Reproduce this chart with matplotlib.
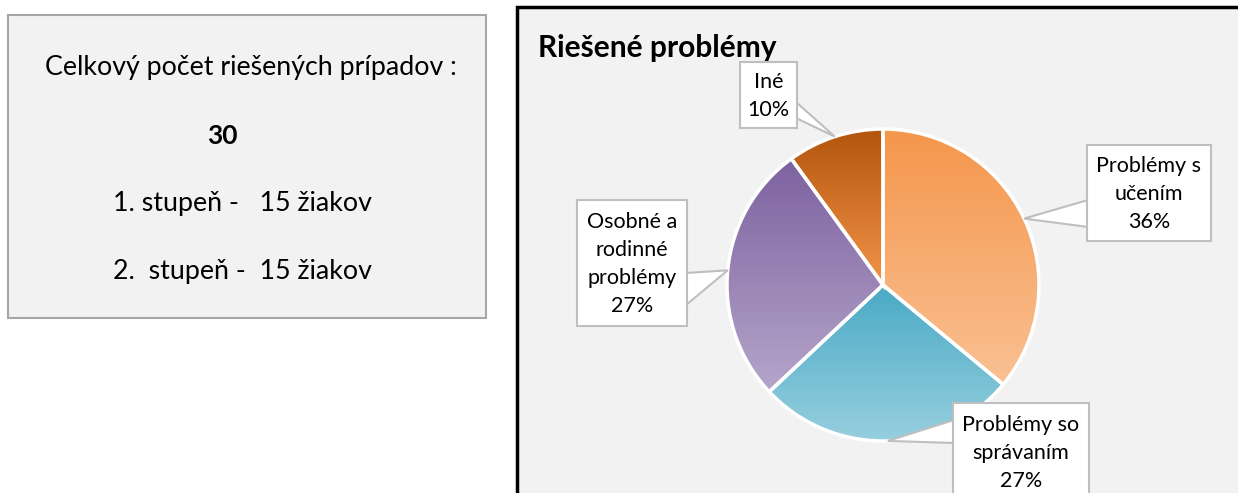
import numpy as np
import matplotlib
matplotlib.use("Agg")
import matplotlib.pyplot as plt
from matplotlib.patches import Rectangle, Polygon
from matplotlib.colors import LinearSegmentedColormap

plt.rcParams["font.family"] = ["Lato", "DejaVu Sans"]

# data
categories = ["Problémy s\nučením", "Problémy so\nsprávaním", "Osobné a\nrodinné\nproblémy", "Iné"]
shares = [36, 27, 27, 10]
top_colors = ["#F4964B", "#4AAAC5", "#7D62A0", "#B4550D"]
bottom_colors = ["#FAC194", "#97CFDF", "#B5A5CA", "#F29448"]

summary_lines = ["Celkový počet riešených prípadov :", "30",
                 "1. stupeň -   15 žiakov", "2.  stupeň -  15 žiakov"]
title = "Riešené problémy"

W, H = 1238, 493
fig = plt.figure(figsize=(W / 100, H / 100), dpi=100)
ax = fig.add_axes([0, 0, 1, 1])
Y = lambda y: H - y  # pixel rows from top -> data y

# left info box
ax.add_patch(Rectangle((8, Y(318)), 478, 303, facecolor="#F2F2F2", edgecolor="#A6A6A6", lw=1.5))
ax.text(45, Y(68), summary_lines[0], fontsize=19.3, va="center", ha="left")
ax.text(207, Y(136), summary_lines[1], fontsize=19, fontweight="bold", va="center", ha="left")
ax.text(113, Y(204), summary_lines[2], fontsize=19.3, va="center", ha="left")
ax.text(113, Y(272), summary_lines[3], fontsize=19.3, va="center", ha="left")

# right chart panel
ax.add_patch(Rectangle((517, Y(500)), 730, 493, facecolor="#F2F2F2", edgecolor="black", lw=2.5))
ax.text(538, Y(48), title, fontsize=21.5, fontweight="bold", va="center", ha="left")

cx, cy, r = 883, Y(285), 156
wedges, _ = ax.pie(shares, startangle=90, counterclock=False, radius=r, center=(cx, cy),
                   frame=True, wedgeprops=dict(edgecolor="white", linewidth=2.5))

for w, c0, c1 in zip(wedges, top_colors, bottom_colors):
    v = w.get_path().vertices
    ext = (v[:, 0].min(), v[:, 0].max(), v[:, 1].min(), v[:, 1].max())
    cmap = LinearSegmentedColormap.from_list("g", [c0, c1])
    im = ax.imshow(np.linspace(0, 1, 256).reshape(-1, 1), cmap=cmap, extent=ext,
                   origin="upper", aspect="auto", zorder=2, interpolation="bilinear")
    im.set_clip_path(w)
    w.set_facecolor("none")
    w.set_zorder(3)

# callout boxes: (x0, y0, x1, y1) in pixels from top-left, pointer base on box edge
boxes = [
    ((1087, 145, 1211, 241), [(1088, 200), (1088, 227)], 194),
    ((953, 403, 1089, 520), [(954, 420), (954, 443)], 453),
    ((577, 200, 687, 326), [(686, 273), (686, 305)], 264),
    ((740, 62, 797, 128), [(796, 102), (796, 118)], 96),
]
for w, name, val, (box, base, ty) in zip(wedges, categories, shares, boxes):
    ang = np.deg2rad((w.theta1 + w.theta2) / 2)
    tip = (cx + r * np.cos(ang), cy + r * np.sin(ang))
    pts = [(base[0][0], Y(base[0][1])), tip, (base[1][0], Y(base[1][1]))]
    ax.add_patch(Polygon(pts, closed=False, facecolor="white", edgecolor="#BFBFBF", lw=1.5, zorder=4))
    x0, y0, x1, y1 = box
    ax.add_patch(Rectangle((x0, Y(y1)), x1 - x0, y1 - y0, facecolor="white",
                           edgecolor="#BFBFBF", lw=1.5, zorder=5))
    ax.text((x0 + x1) / 2, Y(ty), f"{name}\n{val}%", fontsize=15.5, ha="center", va="center",
            linespacing=1.5, zorder=6)

ax.set_xlim(0, W)
ax.set_ylim(0, H)
ax.axis("off")

fig.savefig("out.png", dpi=100)
